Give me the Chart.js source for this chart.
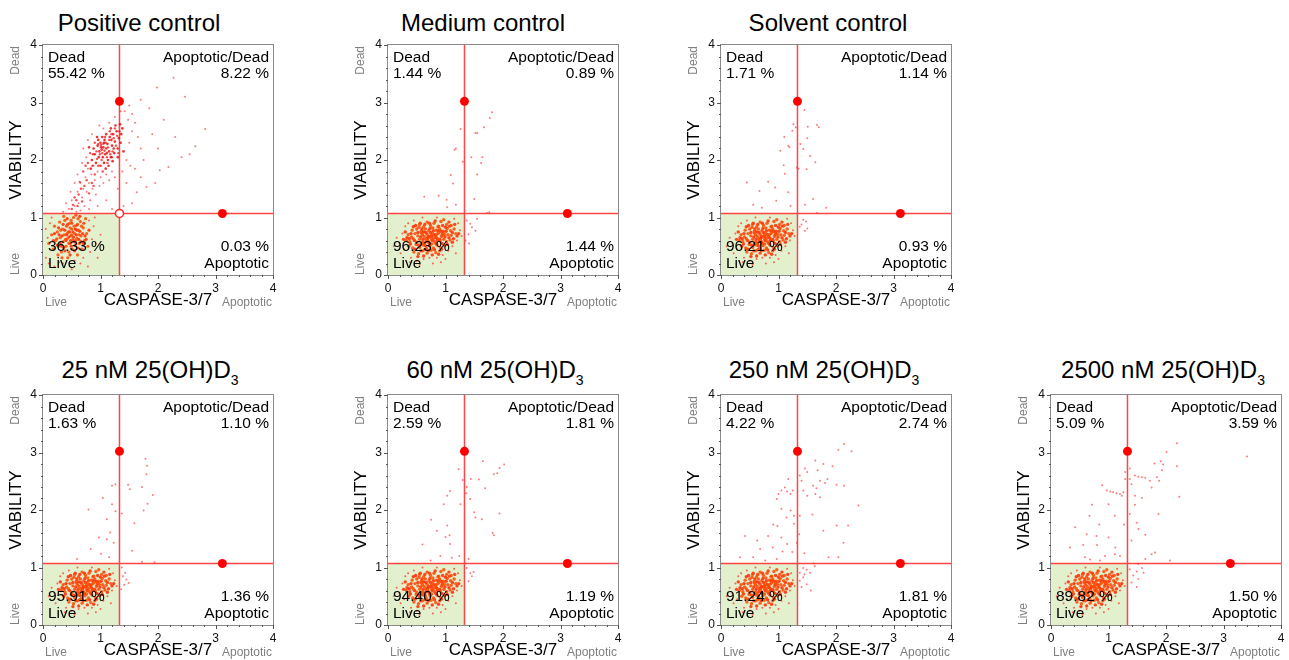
<!DOCTYPE html>
<html>
<head>
<meta charset="utf-8">
<script src="https://cdn.jsdelivr.net/npm/chart.js@4/dist/chart.umd.min.js"></script>
<style>
  body { margin: 0; background: #fff; width: 1289px; height: 660px; position: relative; overflow: hidden;
         font-family: 'Liberation Sans', Arial, sans-serif; }
  canvas { position: absolute; }
  .ttl { position: absolute; font-size: 24px; line-height: 1; white-space: nowrap; transform: translateX(-50%); color: #000; }
  .ttl sub { font-size: 14px; vertical-align: -7px; line-height: 0; }
</style>
</head>
<body>
<script>
'use strict';

// Titel der Panels
var titles = ['Positive control', 'Medium control', 'Solvent control',
  '25 nM 25(OH)D<sub>3</sub>', '60 nM 25(OH)D<sub>3</sub>', '250 nM 25(OH)D<sub>3</sub>', '2500 nM 25(OH)D<sub>3</sub>'];

// Quadranten-Prozente
var deadPct     = ['55.42', '1.44', '1.71', '1.63', '2.59', '4.22', '5.09'];
var apopDeadPct = ['8.22', '0.89', '1.14', '1.10', '1.81', '2.74', '3.59'];
var livePct     = ['36.33', '96.23', '96.21', '95.91', '94.40', '91.24', '89.82'];
var apopPct     = ['0.03', '1.44', '0.93', '1.36', '1.19', '1.81', '1.50'];

// Gate (Quadrantengrenzen) und Marker
var gateX = 1.33, gateY = 1.07;
var gateHandles = [[1.33, 3.02], [3.12, 1.07]];
var gateCenter = [[1.33, 1.07]];

// Positive control
var pcLiveCore = [[0.1,0.55],[0.15,0.7],[0.18,0.45],[0.2,0.85],[0.22,0.6],[0.25,0.75],[0.27,0.5],[0.29,0.92],[0.3,0.65],[0.32,0.4],
  [0.34,0.8],[0.35,0.58],[0.37,0.7],[0.38,0.95],[0.4,0.5],[0.41,0.85],[0.42,0.63],[0.44,0.75],[0.45,0.4],[0.46,0.9],
  [0.47,0.55],[0.48,0.68],[0.5,0.8],[0.51,0.45],[0.52,0.62],[0.53,1.0],[0.55,0.72],[0.56,0.52],[0.58,0.86],[0.59,0.64],
  [0.6,0.35],[0.62,0.78],[0.63,0.55],[0.65,0.93],[0.66,0.68],[0.68,0.45],[0.7,0.82],[0.72,0.6],[0.74,0.98],[0.76,0.72],
  [0.78,0.5],[0.33,0.3],[0.26,0.35],[0.43,0.3],[0.36,1.02],[0.57,1.04],[0.49,0.95],[0.61,0.98],[0.39,0.62],[0.31,0.78],
  [0.54,0.85],[0.45,0.55],[0.24,0.63],[0.67,0.85],[0.57,0.6],[0.42,0.72],[0.5,0.7],[0.36,0.48],[0.63,0.7],[0.47,0.82]];
var pcLiveCore2 = [[0.3,0.55],[0.33,0.68],[0.38,0.78],[0.4,0.6],[0.43,0.88],[0.45,0.66],[0.48,0.6],[0.5,0.9],[0.52,0.75],[0.54,0.58],
  [0.56,0.8],[0.58,0.7],[0.6,0.88],[0.62,0.62],[0.64,0.76],[0.66,0.58],[0.69,0.72],[0.71,0.9],[0.73,0.68],[0.35,0.88],
  [0.28,0.7],[0.25,0.52],[0.32,0.5],[0.38,0.42],[0.47,0.35],[0.55,0.42],[0.61,0.47],[0.7,0.55],[0.75,0.62],[0.8,0.78],
  [0.2,0.72],[0.18,0.6],[0.27,0.82],[0.42,0.98],[0.64,1.02],[0.46,0.75],[0.53,0.66],[0.41,0.7],[0.59,0.78],[0.49,0.5]];
var pcLiveFringe = [[0.05,0.3],[0.08,0.65],[0.12,0.9],[0.1,0.2],[0.2,0.15],[0.35,0.2],[0.55,0.25],[0.7,0.3],[0.82,0.4],[0.85,0.62],
  [0.88,0.85],[0.9,1.0],[0.8,0.95],[0.15,1.0],[0.05,0.8],[0.28,0.22],[0.65,0.2],[0.78,0.15],[0.92,0.55],[1.0,0.7],[0.95,0.3],[0.5,0.1]];
var pcDeadDense = [[0.9,2.1],[0.95,2.25],[0.98,2.15],[1.0,2.3],[1.02,2.18],[1.04,2.05],[1.05,2.22],[1.07,2.35],[1.08,2.1],[1.1,2.2],
  [1.12,2.28],[1.13,2.0],[1.15,2.15],[1.16,2.4],[1.18,2.05],[1.2,2.25],[1.22,2.45],[1.24,2.12],[1.25,2.32],[1.28,2.5],
  [1.3,2.2],[1.32,2.38],[1.35,2.3],[1.38,2.55],[1.4,2.15],[0.85,2.0],[0.88,2.2],[0.92,1.95],[0.96,2.35],[1.0,1.9],
  [1.03,2.4],[1.06,1.95],[1.1,2.45],[1.14,1.9],[1.18,2.55],[1.21,1.98],[1.26,2.6],[1.3,2.05],[1.34,2.62],[0.8,2.22],
  [0.83,1.85],[1.11,2.12],[1.01,2.22],[0.97,2.05],[1.06,2.3],[1.19,2.35],[1.23,2.2],[1.09,1.85],[1.36,2.45],[0.94,2.4]];
var pcDeadDense2 = [[0.93,2.15],[0.96,2.28],[0.99,2.1],[1.01,2.26],[1.03,2.12],[1.05,2.28],[1.07,2.16],[1.09,2.3],[1.11,2.05],[1.13,2.22],
  [1.15,2.35],[1.17,2.1],[1.19,2.45],[1.21,2.15],[1.23,2.38],[1.27,2.25],[1.29,2.42],[1.33,2.5],[1.31,2.12],[0.87,2.1],
  [0.9,2.3],[0.94,2.02],[1.02,2.0],[1.08,2.4],[1.12,1.95],[1.16,2.5],[1.2,2.05],[1.25,2.55],[0.78,1.95],[0.82,2.12],
  [0.86,1.9],[0.7,1.8],[0.74,1.9],[0.76,1.65],[0.72,1.55],[0.66,1.5],[0.62,1.4],[0.58,1.3],[0.52,1.22],[0.5,1.15],
  [0.6,1.2],[0.68,1.28],[0.85,1.6],[0.9,1.75],[0.96,1.9],[1.04,1.8],[0.55,1.35],[0.64,1.62],[0.8,1.42],[0.88,1.55]];
var pcDeadSparse = [[0.45,1.15],[0.5,1.3],[0.55,1.2],[0.6,1.45],[0.62,1.25],[0.65,1.6],[0.68,1.35],[0.7,1.5],[0.72,1.2],[0.74,1.7],
  [0.76,1.45],[0.78,1.85],[0.8,1.6],[0.82,1.3],[0.84,1.75],[0.86,1.5],[0.88,1.9],[0.9,1.65],[0.92,1.4],[0.95,1.8],
  [0.98,1.55],[1.0,1.7],[1.05,1.6],[1.1,1.75],[1.15,1.65],[1.2,1.8],[1.25,1.7],[0.55,1.6],[0.6,1.75],[0.68,1.95],
  [0.7,2.2],[0.75,2.05],[0.58,1.1],[0.4,1.25],[0.48,1.45],[0.35,1.1],[0.65,1.12],[0.8,1.15],[0.95,1.2],[1.1,1.3],
  [1.3,1.5],[1.45,1.6],[1.45,2.0],[1.5,2.3],[1.55,2.5],[1.48,2.7],[1.55,2.8],[1.6,2.65],[1.42,2.85],[1.5,2.95],
  [1.65,2.4],[1.7,2.2],[1.75,2.0],[1.6,1.85],[1.8,1.53],[1.63,1.44],[2.03,1.82],[2.18,1.88],[2.41,2.05],[2.55,2.1],
  [2.65,2.24],[2.82,2.54],[2.47,3.1],[1.98,3.26],[2.27,3.43],[1.85,2.9],[1.7,3.05],[2.1,2.7],[1.9,2.45],[2.0,2.2],
  [1.38,1.8],[1.52,1.9],[1.25,2.75],[1.35,2.85],[1.15,2.65],[1.05,2.55],[0.98,2.6],[0.85,2.45],[0.78,2.35],[1.95,1.6],
  [2.3,2.4],[1.4,1.2],[1.2,1.15],[1.55,1.25],[1.7,1.7]];

// Lebend-Population (Kontrollen und 25(OH)D3)
var liveCore = [[0.55,0.88],[0.68,0.92],[0.8,0.9],[0.92,0.93],[1.02,0.88],[0.74,0.86],[0.62,0.84],[0.88,0.85],[1.1,0.86],[0.97,0.96],
  [0.42,0.78],[0.5,0.8],[0.58,0.76],[0.65,0.8],[0.71,0.77],[0.78,0.82],[0.84,0.78],[0.9,0.8],[0.96,0.76],[1.03,0.81],
  [1.09,0.77],[1.15,0.8],[0.54,0.83],[0.87,0.84],[0.35,0.7],[0.41,0.66],[0.47,0.72],[0.52,0.68],[0.58,0.73],[0.63,0.67],
  [0.68,0.71],[0.73,0.66],[0.78,0.72],[0.83,0.68],[0.88,0.73],[0.93,0.67],[0.98,0.71],[1.04,0.7],[1.1,0.69],[1.18,0.72],
  [0.6,0.7],[0.75,0.69],[0.85,0.71],[0.95,0.74],[0.32,0.6],[0.38,0.58],[0.44,0.63],[0.5,0.57],[0.55,0.62],[0.6,0.58],
  [0.66,0.63],[0.71,0.57],[0.76,0.62],[0.81,0.58],[0.86,0.63],[0.91,0.59],[0.97,0.62],[1.02,0.58],[1.08,0.61],[0.69,0.6],
  [0.8,0.64],[0.63,0.55],[0.36,0.5],[0.43,0.47],[0.49,0.53],[0.55,0.48],[0.61,0.52],[0.67,0.46],[0.73,0.51],[0.79,0.47],
  [0.85,0.52],[0.91,0.48],[0.98,0.51],[0.58,0.54],[0.76,0.54],[0.45,0.4],[0.53,0.37],[0.6,0.42],[0.68,0.38],[0.75,0.43],
  [0.83,0.39],[0.9,0.42],[0.64,0.44]];
var liveCore2 = [[0.52,0.74],[0.57,0.66],[0.62,0.75],[0.66,0.58],[0.7,0.67],[0.74,0.74],[0.77,0.6],[0.81,0.7],[0.84,0.65],[0.87,0.77],
  [0.9,0.62],[0.94,0.7],[0.99,0.66],[1.01,0.76],[1.06,0.65],[1.12,0.74],[1.14,0.63],[1.2,0.68],[0.46,0.6],[0.4,0.72],
  [0.48,0.86],[0.56,0.9],[0.64,0.88],[0.72,0.9],[0.82,0.94],[0.95,0.86],[1.06,0.92],[0.33,0.65],[0.39,0.54],[0.47,0.45],
  [0.57,0.42],[0.7,0.42],[0.81,0.44],[0.93,0.45],[1.03,0.53],[1.12,0.57],[0.65,0.51],[0.72,0.55],[0.83,0.55],[0.94,0.55],
  [0.53,0.52],[0.61,0.62],[0.69,0.64],[0.76,0.67],[0.79,0.77],[0.86,0.6],[0.92,0.76],[0.73,0.81],[0.66,0.74],[0.59,0.8],
  [1.0,0.83],[1.07,0.85],[0.44,0.84],[0.37,0.63],[0.3,0.75],[0.27,0.62],[1.16,0.88],[1.23,0.72],[0.62,0.33],[0.77,0.35],
  [0.52,0.32],[0.88,0.36]];
var liveFringe = [[0.2,0.55],[0.25,0.72],[0.28,0.45],[0.3,0.85],[0.4,0.3],[0.5,0.25],[0.62,0.28],[0.72,0.3],[0.85,0.3],[0.95,0.35],
  [1.05,0.42],[1.12,0.5],[1.2,0.6],[1.25,0.78],[1.22,0.9],[1.15,0.98],[0.45,0.95],[0.35,0.9],[0.6,1.0],[0.85,1.0],
  [0.15,0.65],[0.22,0.38],[1.0,0.28],[0.55,0.18],[0.78,0.2],[1.28,0.68],[0.1,0.5],[0.38,0.22],[1.18,0.38],[0.92,0.22]];

// Einzelereignisse ausserhalb der Lebend-Population
var medOut = [[1.81,2.83],[1.77,2.73],[1.26,2.54],[1.52,2.47],[1.55,2.47],[1.67,2.57],[1.18,2.2],[1.16,2.18],[1.45,2.05],[1.64,2.05],
  [1.55,1.75],[1.62,1.95],[1.3,1.97],[1.09,1.74],[1.13,1.59],[0.63,1.36],[0.88,1.38],[1.02,1.31],[1.18,1.22],[1.03,1.18],
  [1.5,1.32],[1.72,1.08],[1.76,1.09],[1.37,0.95],[1.43,0.89],[1.46,0.83],[1.52,0.77],[1.4,0.71],[1.35,0.6],[1.55,0.98],[1.41,0.55]];
var solvOut = [[1.45,2.87],[1.26,2.62],[1.3,2.57],[1.51,2.58],[1.67,2.61],[1.7,2.57],[1.24,2.51],[1.1,2.4],[1.5,2.38],[1.17,2.25],
  [1.19,2.22],[1.38,2.28],[1.43,2.19],[1.03,2.16],[1.55,2.07],[1.64,1.96],[1.09,1.91],[1.32,1.87],[1.35,1.85],[1.49,1.84],
  [1.11,1.76],[0.45,1.61],[0.82,1.62],[0.94,1.52],[0.67,1.46],[1.17,1.44],[0.96,1.29],[1.6,1.32],[0.56,1.22],[0.71,1.17],
  [1.21,1.2],[1.46,1.22],[1.83,1.17],[1.67,1.08],[1.43,0.96],[1.48,0.93],[1.4,0.88],[1.5,0.81],[1.46,0.77],[1.37,0.84]];
var d25Out = [[1.78,2.89],[1.81,2.77],[1.8,2.62],[1.26,2.45],[1.2,2.42],[1.48,2.44],[1.72,2.4],[1.51,2.36],[1.91,2.26],[1.82,2.11],
  [1.04,2.21],[1.2,2.1],[1.75,1.99],[0.79,2.01],[1.26,1.98],[1.37,1.94],[1.11,1.84],[1.59,1.77],[1.17,1.61],[0.97,1.52],
  [1.11,1.49],[1.23,1.43],[0.83,1.32],[1.55,1.29],[1.01,1.24],[1.15,1.18],[1.72,1.1],[1.94,1.09],[0.59,1.15],[1.37,1.0],
  [1.43,0.91],[1.39,0.85],[1.45,0.79],[1.41,0.7],[1.49,0.73],[1.36,0.62]];
var d60Out = [[1.65,2.85],[2.02,2.79],[1.94,2.73],[1.84,2.62],[1.9,2.64],[1.23,2.71],[1.3,2.52],[1.37,2.4],[1.44,2.54],[1.58,2.53],
  [1.69,2.38],[1.36,2.29],[1.03,2.25],[1.08,2.33],[0.97,2.1],[1.43,2.19],[1.26,2.1],[1.52,1.87],[1.5,1.96],[1.63,1.84],
  [1.94,1.94],[1.03,1.73],[1.82,1.6],[1.84,1.56],[0.85,1.64],[1.07,1.56],[0.75,1.83],[1.0,1.53],[1.08,1.41],[0.6,1.4],
  [0.91,1.2],[1.11,1.17],[1.24,1.2],[0.74,1.12],[1.4,1.15],[1.37,0.99],[1.43,0.9],[1.46,0.85],[1.4,0.76],[1.49,0.92]];
var d250Out = [[2.14,3.15],[2.04,3.05],[2.27,3.02],[1.64,2.86],[1.46,2.72],[1.68,2.69],[1.78,2.8],[1.94,2.76],[1.5,2.66],[1.37,2.6],
  [1.4,2.51],[1.6,2.42],[1.66,2.38],[1.72,2.51],[1.81,2.47],[1.85,2.54],[2.01,2.44],[2.14,2.42],[1.17,2.54],[1.11,2.39],
  [1.0,2.28],[1.05,2.34],[1.15,2.32],[1.21,2.28],[1.25,2.34],[0.97,2.19],[1.43,2.34],[1.5,2.25],[1.64,2.28],[1.72,2.22],
  [2.39,2.08],[1.05,2.02],[1.21,1.99],[1.27,1.9],[1.37,1.9],[1.59,1.92],[1.14,1.87],[0.91,1.75],[0.98,1.72],[1.27,1.76],
  [2.01,1.73],[2.21,1.73],[1.78,1.64],[1.36,1.58],[0.82,1.55],[0.42,1.55],[0.63,1.47],[1.05,1.52],[1.15,1.41],[2.13,1.43],
  [1.32,1.43],[0.68,1.32],[0.9,1.35],[1.07,1.28],[1.24,1.27],[1.45,1.25],[1.87,1.18],[2.04,1.18],[0.56,1.18],[0.33,1.18],
  [0.77,1.12],[0.97,1.15],[1.61,1.07],[1.43,0.99],[1.49,0.96],[1.37,0.91],[1.55,0.91],[1.63,1.02],[1.43,0.83],[1.49,0.71],
  [1.37,0.77],[1.56,0.6],[1.45,0.88],[1.4,0.66]];
var d2500Out = [[2.19,3.16],[2.01,3.01],[3.41,2.93],[1.91,2.85],[1.95,2.79],[1.8,2.81],[2.19,2.76],[1.93,2.69],[1.84,2.57],[1.37,2.72],
  [1.29,2.66],[1.37,2.54],[1.29,2.54],[1.46,2.6],[1.52,2.58],[1.58,2.57],[1.64,2.56],[1.4,2.45],[1.72,2.51],[1.88,2.51],
  [1.75,2.39],[0.89,2.43],[0.97,2.34],[1.03,2.32],[1.08,2.31],[1.14,2.29],[1.2,2.28],[1.26,2.31],[1.23,2.25],[2.23,2.23],
  [0.71,2.09],[1.46,2.25],[1.58,2.21],[1.46,2.09],[1.0,2.1],[1.87,1.93],[0.67,1.9],[1.11,1.9],[1.37,1.93],[0.84,1.75],
  [1.27,1.75],[1.49,1.78],[1.52,1.67],[0.42,1.7],[0.62,1.58],[0.79,1.55],[1.0,1.52],[1.64,1.57],[1.4,1.47],[0.56,1.39],
  [0.8,1.39],[1.12,1.35],[0.33,1.35],[1.11,1.23],[0.94,1.2],[0.68,1.14],[0.59,1.18],[0.85,1.12],[1.2,1.2],[1.64,1.15],
  [1.75,1.23],[1.81,1.26],[1.52,1.06],[2.07,1.12],[1.37,0.97],[1.49,0.93],[1.58,0.99],[1.43,0.86],[1.52,0.8],[1.4,0.74],
  [1.49,0.66],[1.61,0.91]];

// Layout: linke/obere Kante der Plotflaeche, Titelmitte
var layout = [
  { left: 43, top: 45, tx: 139, ty: 11 },
  { left: 388, top: 45, tx: 483, ty: 11 },
  { left: 721, top: 45, tx: 828, ty: 11 },
  { left: 43, top: 395, tx: 150, ty: 358 },
  { left: 388, top: 395, tx: 495, ty: 358 },
  { left: 721, top: 395, tx: 824, ty: 358 },
  { left: 1051, top: 395, tx: 1163, ty: 358 }
];

var FONT = "'Liberation Sans', Arial, sans-serif";
var pts = function (arr) { return arr.map(function (p) { return { x: p[0], y: p[1] }; }); };

function isMajor(v) { return Math.abs(v - Math.round(v)) < 1e-6; }

var gatePlugin = {
  id: 'gate',
  beforeDatasetsDraw: function (chart) {
    var ctx = chart.ctx, a = chart.chartArea, xs = chart.scales.x, ys = chart.scales.y;
    var gx = xs.getPixelForValue(gateX), gy = ys.getPixelForValue(gateY);
    ctx.save();
    ctx.fillStyle = 'rgb(227,240,206)';
    ctx.fillRect(a.left, gy, gx - a.left, a.bottom - gy);
    ctx.strokeStyle = 'rgba(255,50,50,0.9)';
    ctx.lineWidth = 1.5;
    ctx.beginPath();
    ctx.moveTo(gx, a.top); ctx.lineTo(gx, a.bottom);
    ctx.moveTo(a.left, gy); ctx.lineTo(a.right, gy);
    ctx.stroke();
    ctx.restore();
  },
  afterDatasetsDraw: function (chart, args, opts) {
    var ctx = chart.ctx, a = chart.chartArea, xs = chart.scales.x, ys = chart.scales.y;
    ctx.save();
    // Rahmen
    ctx.strokeStyle = '#8a8a8a';
    ctx.lineWidth = 1;
    ctx.strokeRect(a.left - 0.5, a.top - 0.5, a.right - a.left + 1, a.bottom - a.top + 1);
    // Teilstriche
    ctx.strokeStyle = '#555';
    ctx.beginPath();
    xs.ticks.forEach(function (t) {
      var px = Math.round(xs.getPixelForValue(t.value)) + 0.5;
      ctx.moveTo(px, a.bottom); ctx.lineTo(px, a.bottom + (isMajor(t.value) ? 4 : 2));
    });
    ys.ticks.forEach(function (t) {
      var py = Math.round(ys.getPixelForValue(t.value)) + 0.5;
      ctx.moveTo(a.left, py); ctx.lineTo(a.left - (isMajor(t.value) ? 4 : 2), py);
    });
    ctx.stroke();
    // Quadranten-Beschriftung
    ctx.fillStyle = '#000';
    ctx.font = '15.5px ' + FONT;
    ctx.textBaseline = 'alphabetic';
    ctx.textAlign = 'left';
    ctx.fillText('Dead', a.left + 5, a.top + 17);
    ctx.fillText(opts.q[0] + ' %', a.left + 5, a.top + 33);
    ctx.fillText(opts.q[2] + ' %', a.left + 5, a.bottom - 24);
    ctx.fillText('Live', a.left + 5, a.bottom - 7);
    ctx.textAlign = 'right';
    ctx.fillText('Apoptotic/Dead', a.right - 4, a.top + 17);
    ctx.fillText(opts.q[1] + ' %', a.right - 4, a.top + 33);
    ctx.fillText(opts.q[3] + ' %', a.right - 4, a.bottom - 24);
    ctx.fillText('Apoptotic', a.right - 4, a.bottom - 7);
    // Achsenenden (grau)
    ctx.fillStyle = '#808080';
    ctx.font = '12px ' + FONT;
    ctx.textAlign = 'left';
    ctx.fillText('Live', a.left + 2, a.bottom + 31);
    ctx.textAlign = 'right';
    ctx.fillText('Apoptotic', a.right - 1, a.bottom + 31);
    ctx.translate(16, 0);
    ctx.rotate(-Math.PI / 2);
    ctx.textBaseline = 'middle';
    ctx.textAlign = 'right';
    ctx.fillText('Dead', -a.top - 1, 0);
    ctx.textAlign = 'left';
    ctx.fillText('Live', -a.bottom, 0);
    ctx.restore();
  }
};

function makeChart(i, sets) {
  var L = layout[i];
  var title = document.createElement('div');
  title.className = 'ttl';
  title.style.left = L.tx + 'px';
  title.style.top = L.ty + 'px';
  title.innerHTML = titles[i];
  document.body.appendChild(title);

  var canvas = document.createElement('canvas');
  canvas.width = 281; canvas.height = 278;
  canvas.style.left = (L.left - 43) + 'px';
  canvas.style.top = (L.top - 8) + 'px';
  document.body.appendChild(canvas);

  var handles = {
    data: pts(gateHandles), pointRadius: 4.5, pointBackgroundColor: 'rgb(255,0,0)',
    pointBorderColor: 'rgb(255,0,0)', pointBorderWidth: 0
  };
  var datasets = [handles];
  if (i === 0) {
    datasets.push({
      data: pts(gateCenter), pointRadius: 4, pointBackgroundColor: '#fff',
      pointBorderColor: 'rgb(255,40,40)', pointBorderWidth: 1.5
    });
  }
  sets.forEach(function (s) {
    datasets.push({
      data: pts(s.data), pointRadius: s.r, pointBackgroundColor: s.c,
      pointBorderWidth: 0, pointBorderColor: 'transparent'
    });
  });

  var tickFont = { family: FONT, size: 12 };
  var axisTicks = {
    stepSize: 0.2, autoSkip: false, maxRotation: 0, padding: 6, color: '#111', font: tickFont,
    callback: function (v) { return isMajor(v) ? String(Math.round(v)) : ''; }
  };

  return new Chart(canvas.getContext('2d'), {
    type: 'scatter',
    data: { datasets: datasets },
    options: {
      responsive: false,
      animation: false,
      devicePixelRatio: 1,
      layout: { padding: { top: 8, right: 8, left: 0, bottom: 0 } },
      plugins: { legend: { display: false }, tooltip: { enabled: false },
        gate: { q: [deadPct[i], apopDeadPct[i], livePct[i], apopPct[i]] } },
      scales: {
        x: {
          type: 'linear', min: 0, max: 4,
          afterFit: function (s) { s.height = 40; s.paddingLeft = 0; s.paddingRight = 0; },
          grid: { display: false, drawTicks: false }, border: { display: false },
          ticks: axisTicks,
          title: { display: true, text: 'CASPASE-3/7', color: '#000', font: { family: FONT, size: 17 }, padding: { top: 0, bottom: 4 } }
        },
        y: {
          type: 'linear', min: 0, max: 4,
          afterFit: function (s) { s.width = 43; s.paddingTop = 0; s.paddingBottom = 0; },
          grid: { display: false, drawTicks: false }, border: { display: false },
          ticks: axisTicks,
          title: { display: true, text: 'VIABILITY', color: '#000', font: { family: FONT, size: 17 }, padding: { top: 6, bottom: 0 } }
        }
      }
    },
    plugins: [gatePlugin]
  });
}

var coreColor = 'rgba(255,70,0,0.85)';
var fringeColor = 'rgba(255,40,20,0.7)';
var sparseColor = 'rgba(255,50,50,0.65)';

makeChart(0, [
  { data: pcLiveCore, r: 1.6, c: coreColor },
  { data: pcLiveCore2, r: 1.6, c: 'rgba(255,40,0,0.85)' },
  { data: pcLiveFringe, r: 1, c: fringeColor },
  { data: pcDeadDense, r: 1.3, c: 'rgba(235,0,0,0.8)' },
  { data: pcDeadDense2, r: 1.2, c: 'rgba(245,20,20,0.75)' },
  { data: pcDeadSparse, r: 1, c: sparseColor }
]);

var outSets = [medOut, solvOut, d25Out, d60Out, d250Out, d2500Out];
outSets.forEach(function (out, k) {
  makeChart(k + 1, [
    { data: liveCore, r: 1.7, c: coreColor },
    { data: liveCore2, r: 1.7, c: 'rgba(255,40,0,0.85)' },
    { data: liveFringe, r: 1, c: fringeColor },
    { data: out, r: 1, c: sparseColor }
  ]);
});
</script>
</body>
</html>
